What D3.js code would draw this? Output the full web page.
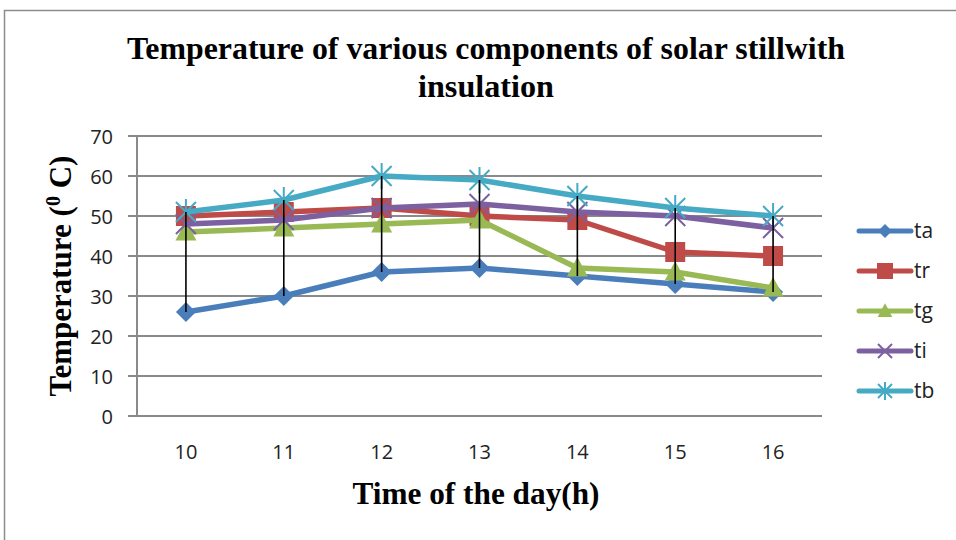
<!DOCTYPE html>
<html>
<head>
<meta charset="utf-8">
<style>
  body { margin: 0; background: white; }
  .tick text { font-family: "Open Sans", "Liberation Sans", sans-serif; font-size: 20px; fill: #222; }
  .ttl { font-family: "Liberation Serif", "Times New Roman", serif; font-weight: bold; fill: #000; }
  .leg text { font-family: "Open Sans", "Liberation Sans", sans-serif; font-size: 21px; fill: #222; }
</style>
</head>
<body>
<svg width="956" height="540"></svg>
<script src="https://cdn.jsdelivr.net/npm/d3@7"></script>
<script>
var hours = ["10", "11", "12", "13", "14", "15", "16"];
var ta = [26, 30, 36, 37, 35, 33, 31];
var tr = [50, 51, 52, 50, 49, 41, 40];
var tg = [46, 47, 48, 49, 37, 36, 32];
var ti = [48, 49, 52, 53, 51, 50, 47];
var tb = [51, 54, 60, 59, 55, 52, 50];
var yTicks = [0, 10, 20, 30, 40, 50, 60, 70];

var series = [
  {name: "ta", values: ta, color: "#4a7ebb", marker: "diamond"},
  {name: "tr", values: tr, color: "#be4b48", marker: "square"},
  {name: "tg", values: tg, color: "#98b954", marker: "triangle"},
  {name: "ti", values: ti, color: "#7d60a0", marker: "x"},
  {name: "tb", values: tb, color: "#46aac5", marker: "star"}
];

var svg = d3.select("svg");

// chart frame (only left and top edges visible)
svg.append("path")
  .attr("d", "M4.5,540 V10.5 H956")
  .attr("fill", "none").attr("stroke", "#8c8c8c").attr("stroke-width", 1.5);

var pL = 137, pR = 822, pT = 136, pB = 416;

var x = d3.scaleBand().domain(hours).range([pL, pR]);
var y = d3.scaleLinear().domain([0, 70]).range([pB, pT]);

// gridlines
svg.append("g").selectAll("line").data(yTicks).enter().append("line")
  .attr("x1", pL - 9).attr("x2", pR)
  .attr("y1", function(d) { return y(d); }).attr("y2", function(d) { return y(d); })
  .attr("stroke", "#8a8a8a").attr("stroke-width", 2);

var yAxis = svg.append("g").attr("transform", "translate(" + pL + ",0)")
  .call(d3.axisLeft(y).tickValues(yTicks).tickSize(0).tickPadding(24));
yAxis.select(".domain").remove();
yAxis.selectAll(".tick text").attr("dy", "0.36em");
svg.append("line").attr("x1", pL).attr("x2", pL).attr("y1", pT).attr("y2", pB)
  .attr("stroke", "#8a8a8a").attr("stroke-width", 2);

var xAxis = svg.append("g").attr("transform", "translate(0," + pB + ")")
  .call(d3.axisBottom(x).tickSize(0).tickPadding(29));
xAxis.select(".domain").remove();

function cx(i) { return x(hours[i]) + x.bandwidth() / 2; }

var line = d3.line()
  .x(function(d, i) { return cx(i); })
  .y(function(d) { return y(d); });

function markerPath(type, s) {
  if (type === "diamond") return "M0," + (-s) + "L" + s + ",0L0," + s + "L" + (-s) + ",0Z";
  if (type === "square") return "M" + (-s) + "," + (-s) + "H" + s + "V" + s + "H" + (-s) + "Z";
  if (type === "triangle") return "M0," + (-s * 1.1) + "L" + (s * 1.05) + "," + (s * 0.85) + "L" + (-s * 1.05) + "," + (s * 0.85) + "Z";
  if (type === "x") return "M" + (-s) + "," + (-s) + "L" + s + "," + s + "M" + s + "," + (-s) + "L" + (-s) + "," + s;
  return "M" + (-s) + "," + (-s) + "L" + s + "," + s + "M" + s + "," + (-s) + "L" + (-s) + "," + s +
         "M0," + (-s * 1.3) + "V" + (s * 1.3);
}

function drawMarker(g, d, px, py, s) {
  var p = g.append("path").attr("transform", "translate(" + px + "," + py + ")")
    .attr("d", markerPath(d.marker, s));
  if (d.marker === "x" || d.marker === "star") {
    p.attr("fill", "none").attr("stroke", d.color).attr("stroke-width", 2);
  } else {
    p.attr("fill", d.color);
  }
}

series.forEach(function(d) {
  var g = svg.append("g");
  g.append("path").attr("d", line(d.values))
    .attr("fill", "none").attr("stroke", d.color).attr("stroke-width", 5.5)
    .attr("stroke-linejoin", "round");
  d.values.forEach(function(v, i) {
    drawMarker(g, d, cx(i), y(v), 10);
  });
});

// high-low lines
svg.append("g").selectAll("line").data(hours).enter().append("line")
  .attr("x1", function(d, i) { return cx(i); })
  .attr("x2", function(d, i) { return cx(i); })
  .attr("y1", function(d, i) { return y(d3.max(series, function(s) { return s.values[i]; })); })
  .attr("y2", function(d, i) { return y(d3.min(series, function(s) { return s.values[i]; })); })
  .attr("stroke", "#000").attr("stroke-width", 1.6);

// legend
var leg = svg.append("g").attr("class", "leg");
series.forEach(function(d, i) {
  var ly = 231 + i * 40;
  var g = leg.append("g");
  g.append("line").attr("x1", 859).attr("x2", 911).attr("y1", ly).attr("y2", ly)
    .attr("stroke", d.color).attr("stroke-width", 5).attr("stroke-linecap", "round");
  drawMarker(g, d, 885, ly, d.marker === "square" ? 8 : 7);
  g.append("text").attr("x", 914).attr("y", ly).attr("dy", "0.35em").text(d.name);
});

// titles
svg.append("text").attr("class", "ttl").attr("x", 486).attr("y", 59)
  .attr("text-anchor", "middle").style("font-size", "31px")
  .attr("textLength", 718).attr("lengthAdjust", "spacingAndGlyphs")
  .text("Temperature of various components of solar stillwith");
svg.append("text").attr("class", "ttl").attr("x", 486).attr("y", 97)
  .attr("text-anchor", "middle").style("font-size", "31px")
  .attr("textLength", 136).attr("lengthAdjust", "spacingAndGlyphs")
  .text("insulation");

svg.append("text").attr("class", "ttl").attr("x", 476).attr("y", 504)
  .attr("text-anchor", "middle").style("font-size", "31px")
  .attr("textLength", 247).attr("lengthAdjust", "spacingAndGlyphs")
  .text("Time of the day(h)");

var yt = svg.append("text").attr("class", "ttl")
  .attr("transform", "translate(71,276) rotate(-90)")
  .attr("text-anchor", "middle").style("font-size", "31px");
yt.append("tspan").text("Temperature (");
yt.append("tspan").attr("dy", -11).style("font-size", "20px").text("0");
yt.append("tspan").attr("dy", 11).text(" C)");
</script>
</body>
</html>
